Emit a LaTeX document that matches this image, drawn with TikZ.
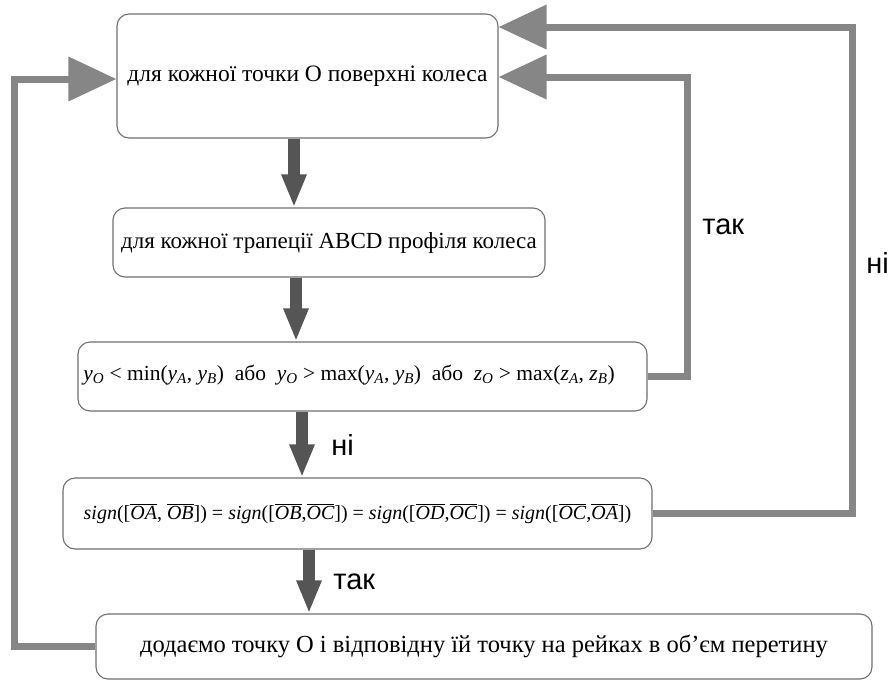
\documentclass[tikz,border=0pt]{standalone}
\usepackage{fontspec}
\setmainfont{Liberation Serif}
\newfontfamily\labelfont{Liberation Sans}
\usetikzlibrary{arrows.meta,positioning}
\definecolor{boxgray}{HTML}{707070}
\definecolor{downgray}{HTML}{555555}
\definecolor{backgray}{HTML}{868686}
\newcommand{\ovl}[1]{$\overline{\mbox{\itshape #1}}$}
\newcommand{\vr}[2]{{\itshape #1}\textsubscript{\itshape #2}}
\tikzset{
  block/.style={draw=boxgray, line width=1.1pt, rounded corners=12pt, fill=white,
    font=\fontsize{23.5}{28}\selectfont, align=center, inner sep=0pt},
  down/.style={draw=downgray, line width=12pt,
    -{Triangle[length=33pt,width=23pt]}, color=downgray},
  back/.style={draw=backgray, line width=7pt,
    -{Triangle[length=48pt,width=43pt]}, color=backgray},
  lbl/.style={font=\labelfont\fontsize{29}{32}\selectfont, text=black}
}
\begin{document}
\begin{tikzpicture}[x=1pt,y=-1pt]
  \useasboundingbox (0,0) rectangle (895,681);
  \node[block, minimum width=381pt, minimum height=124pt] (b1) at (307.5,76)
    {для кожної точки О поверхні колеса};
  \node[block, minimum width=432pt, minimum height=69pt, font=\fontsize{23}{28}\selectfont] (b2) at (329,242.5)
    {для кожної трапеції ABCD профіля колеса};
  \node[block, minimum width=569pt, minimum height=69pt, font=\fontsize{21.5}{26}\selectfont] (b3) at (362.5,376.5)
    {\raisebox{8pt}{\vr{y}{O} < min(\vr{y}{A}, \vr{y}{B}) \ або \ \vr{y}{O} > max(\vr{y}{A}, \vr{y}{B}) \ або \ \vr{z}{O} > max(\vr{z}{A}, \vr{z}{B})}\hspace*{27pt}};
  \node[block, minimum width=589pt, minimum height=71pt, font=\fontsize{20}{24}\selectfont] (b4) at (357.5,513.5)
    {\textit{sign}([\ovl{OA}, \ovl{OB}]) = \textit{sign}([\ovl{OB},\ovl{OC}]) = \textit{sign}([\ovl{OD},\ovl{OC}]) = \textit{sign}([\ovl{OC},\ovl{OA}])};
  \node[block, minimum width=776pt, minimum height=65pt, font=\fontsize{24.5}{29}\selectfont] (b5) at (484,646.5)
    {додаємо точку О і відповідну їй точку на рейках в об’єм перетину};
  \begin{scope}[down]
    \draw ([xshift=-13.5pt]b1.south) -- ([xshift=-13.5pt]b1.south |- b2.north);
    \draw ([xshift=-33pt]b2.south) -- ([xshift=-33pt]b2.south |- b3.north);
    \draw ([xshift=-60.5pt]b3.south) -- ([xshift=-60.5pt]b3.south |- b4.north)
      node[midway, right=20pt, lbl] (no1) {ні};
    \draw ([xshift=-48.5pt]b4.south) -- ([xshift=-48.5pt]b4.south |- b5.north)
      node[midway, right=15pt, lbl] (yes2) {так};
  \end{scope}
  \begin{scope}[back]
    \draw (b5.west) -- ++(-81,0) |- ([yshift=-3pt]b1.west);
    \draw (b3.east) -- ++(40,0) |- ([yshift=-1pt]b1.east)
      node[pos=0.25, right=8pt, lbl] (yes1) {так};
    \draw (b4.east) -- ++(200,0) |- ([yshift=49pt]b1.east)
      node[pos=0.257, right=7pt, lbl] (no2) {ні};
  \end{scope}
\end{tikzpicture}
\end{document}
